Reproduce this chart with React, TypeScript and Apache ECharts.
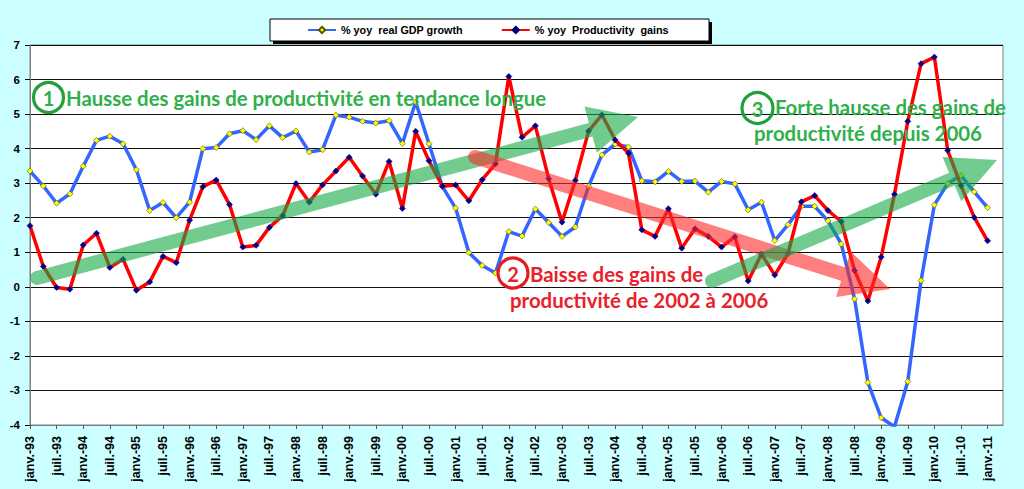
import React, { useEffect, useRef } from "react";
import * as echarts from "echarts";

// Tick labels (one every two quarters), from janv.-93 to janv.-11
const tickLabels = [
  "janv.-93", "juil.-93", "janv.-94", "juil.-94", "janv.-95", "juil.-95",
  "janv.-96", "juil.-96", "janv.-97", "juil.-97", "janv.-98", "juil.-98",
  "janv.-99", "juil.-99", "janv.-00", "juil.-00", "janv.-01", "juil.-01",
  "janv.-02", "juil.-02", "janv.-03", "juil.-03", "janv.-04", "juil.-04",
  "janv.-05", "juil.-05", "janv.-06", "juil.-06", "janv.-07", "juil.-07",
  "janv.-08", "juil.-08", "janv.-09", "juil.-09", "janv.-10", "juil.-10",
  "janv.-11",
];

// Quarterly values, janv.-93 .. janv.-11 (73 quarters)
const gdpGrowth = [
  3.35, 2.92, 2.42, 2.69, 3.49, 4.24, 4.36, 4.14, 3.39, 2.21,
  2.44, 2.0, 2.45, 4.0, 4.03, 4.43, 4.52, 4.26, 4.66, 4.32,
  4.51, 3.9, 3.97, 4.97, 4.91, 4.79, 4.74, 4.81, 4.15, 5.35,
  4.14, 2.91, 2.28, 0.99, 0.62, 0.4, 1.6, 1.47, 2.25, 1.86,
  1.46, 1.73, 2.91, 3.82, 4.13, 4.05, 3.07, 3.04, 3.34, 3.05,
  3.06, 2.74, 3.05, 2.98, 2.23, 2.45, 1.34, 1.8, 2.33, 2.33,
  1.91, 1.24, -0.35, -2.77, -3.79, -4.05, -2.74, 0.18, 2.37, 2.99,
  3.22, 2.75, 2.29,
];

const productivityGains = [
  1.77, 0.59, -0.02, -0.07, 1.21, 1.55, 0.56, 0.8, -0.1, 0.14,
  0.88, 0.7, 1.93, 2.9, 3.09, 2.38, 1.15, 1.2, 1.72, 2.06,
  2.99, 2.45, 2.95, 3.35, 3.75, 3.21, 2.68, 3.63, 2.27, 4.5,
  3.65, 2.91, 2.95, 2.49, 3.1, 3.56, 6.09, 4.33, 4.66, 3.13,
  1.87, 3.08, 4.51, 4.98, 4.25, 3.87, 1.65, 1.46, 2.26, 1.12,
  1.68, 1.46, 1.15, 1.45, 0.17, 0.95, 0.34, 0.97, 2.46, 2.64,
  2.21, 1.89, 0.47, -0.41, 0.86, 2.68, 4.79, 6.46, 6.65, 3.95,
  2.93, 2.01, 1.33,
];

const seriesNames = ["% yoy  real GDP growth", "% yoy  Productivity  gains"];

const GREEN_TEXT = "#2FB04A";
const GREEN_CIRCLE = "#1FA03C";
const RED_TEXT = "#E8212B";
const GREEN_ARROW = "rgba(20,170,70,0.6)";
const RED_ARROW = "rgba(255,40,40,0.6)";
const ANNOT_FONT = "Lato, 'Open Sans', sans-serif";

function arrowPoints(sx: number, sy: number, tx: number, ty: number) {
  const w = 7, H = 24, L = 49;
  const dx = tx - sx, dy = ty - sy;
  const len = Math.hypot(dx, dy);
  const ux = dx / len, uy = dy / len;
  const nx = -uy, ny = ux;
  const bx = tx - ux * L, by = ty - uy * L;
  const pts: number[][] = [];
  pts.push([sx + nx * w, sy + ny * w]);
  pts.push([bx + nx * w, by + ny * w]);
  pts.push([bx + nx * H, by + ny * H]);
  pts.push([tx, ty]);
  pts.push([bx - nx * H, by - ny * H]);
  pts.push([bx - nx * w, by - ny * w]);
  pts.push([sx - nx * w, sy - ny * w]);
  for (let k = 1; k < 8; k++) {
    const a = (Math.PI * k) / 8;
    const cx = -nx * Math.cos(a) - ux * Math.sin(a);
    const cy = -ny * Math.cos(a) - uy * Math.sin(a);
    pts.push([sx + cx * w, sy + cy * w]);
  }
  return pts;
}

function annotText(text: string, x: number, y: number, color: string, align = "left", size = 20.4) {
  return {
    type: "text",
    z: 120,
    x,
    y,
    style: {
      text,
      fill: color,
      fontFamily: ANNOT_FONT,
      fontWeight: "bold",
      fontSize: size,
      textAlign: align,
      textVerticalAlign: "middle",
    },
  };
}

function circleMark(cx: number, cy: number, r: number, color: string, label: string, textColor: string) {
  return [
    {
      type: "circle",
      z: 120,
      shape: { cx, cy, r },
      style: { fill: "none", stroke: color, lineWidth: 3.2 },
    },
    annotText(label, cx, cy + 0.5, textColor, "center", 20),
  ];
}

export default function App() {
  const ref = useRef<HTMLDivElement>(null);

  useEffect(() => {
    if (!ref.current) return;
    const chart = echarts.init(ref.current, null, { renderer: "svg" });

    const option: any = {
      animation: false,
      backgroundColor: "#CCFFFF",
      textStyle: { fontFamily: "'Liberation Sans', Arial, sans-serif" },
      grid: {
        left: 30,
        right: 21,
        top: 45,
        bottom: 64,
        show: true,
        backgroundColor: "#FFFFFF",
        borderColor: "#808080",
        borderWidth: 1,
      },
      legend: {
        data: seriesNames,
        left: 307,
        top: 24,
        padding: 0,
        itemWidth: 28,
        itemHeight: 8,
        itemGap: 38,
        textStyle: {
          fontSize: 10.8,
          fontWeight: "bold",
          color: "#000",
          lineHeight: 12,
          fontFamily: "'Liberation Sans', Arial, sans-serif",
        },
      },
      xAxis: {
        type: "value",
        min: 0,
        max: 73.16,
        interval: 2,
        axisLine: { show: true, onZero: false, lineStyle: { color: "#808080", width: 1 } },
        axisTick: { show: true, length: 4, lineStyle: { color: "#555" } },
        splitLine: { show: false },
        axisLabel: {
          rotate: 90,
          margin: 11,
          fontSize: 12.5,
          fontWeight: "bold",
          color: "#000",
          fontFamily: "'Liberation Sans', Arial, sans-serif",
          showMaxLabel: false,
          formatter: (v: number) => {
            const k = Math.round(v);
            if (Math.abs(v - k) > 1e-6 || k % 2 !== 0) return "";
            return tickLabels[k / 2] ?? "";
          },
        },
      },
      yAxis: {
        type: "value",
        min: -4,
        max: 7,
        interval: 1,
        axisLine: { show: true, lineStyle: { color: "#808080", width: 1 } },
        axisTick: { show: true, length: 5, lineStyle: { color: "#000" } },
        splitLine: { show: true, lineStyle: { color: "#111", width: 1 } },
        axisLabel: {
          margin: 10,
          fontSize: 11.5,
          fontWeight: "bold",
          color: "#000",
          fontFamily: "'Liberation Sans', Arial, sans-serif",
        },
      },
      series: [
        {
          name: seriesNames[0],
          type: "line",
          data: gdpGrowth.map((v, i) => [i, v]),
          symbol: "diamond",
          symbolSize: 6,
          showAllSymbol: true,
          lineStyle: { color: "#3366FF", width: 3.5 },
          itemStyle: { color: "#FFFF00", borderColor: "#555500", borderWidth: 0.6 },
          z: 3,
        },
        {
          name: seriesNames[1],
          type: "line",
          data: productivityGains.map((v, i) => [i, v]),
          symbol: "diamond",
          symbolSize: 6,
          showAllSymbol: true,
          lineStyle: { color: "#FF0000", width: 3.5 },
          itemStyle: { color: "#000099", borderColor: "#000066", borderWidth: 0.6 },
          z: 4,
        },
      ],
      graphic: {
        elements: [
          // legend box with shadow
          {
            type: "rect",
            z: 1,
            shape: { x: 273, y: 22, width: 439, height: 22 },
            style: { fill: "#000" },
          },
          {
            type: "rect",
            z: 2,
            shape: { x: 270, y: 19, width: 439, height: 22 },
            style: { fill: "#fff", stroke: "#000", lineWidth: 1 },
          },
          // arrows
          { type: "polygon", z: 110, shape: { points: arrowPoints(37, 278, 638, 117) }, style: { fill: GREEN_ARROW } },
          { type: "polygon", z: 110, shape: { points: arrowPoints(475, 157, 890, 289) }, style: { fill: RED_ARROW } },
          { type: "polygon", z: 110, shape: { points: arrowPoints(712, 281, 997, 160) }, style: { fill: GREEN_ARROW } },
          // annotation 1
          ...circleMark(48.5, 97.5, 15, GREEN_CIRCLE, "1", GREEN_TEXT),
          annotText("Hausse des gains de productivité en tendance longue", 66, 97.5, GREEN_TEXT),
          // annotation 2
          ...circleMark(513, 273, 15, "#E31B23", "2", RED_TEXT),
          annotText("Baisse des gains de", 530, 274, RED_TEXT),
          annotText("productivité de 2002 à 2006", 510, 300, RED_TEXT),
          // annotation 3
          ...circleMark(757.5, 108, 15.5, GREEN_CIRCLE, "3", GREEN_TEXT),
          annotText("Forte hausse des gains de", 775, 107, GREEN_TEXT),
          annotText("productivité depuis 2006", 754, 133, GREEN_TEXT),
        ],
      },
    };

    chart.setOption(option);
    return () => chart.dispose();
  }, []);

  return (
    <div
      ref={ref}
      style={{ position: "absolute", left: 0, top: 0, width: 1024, height: 489 }}
    />
  );
}
